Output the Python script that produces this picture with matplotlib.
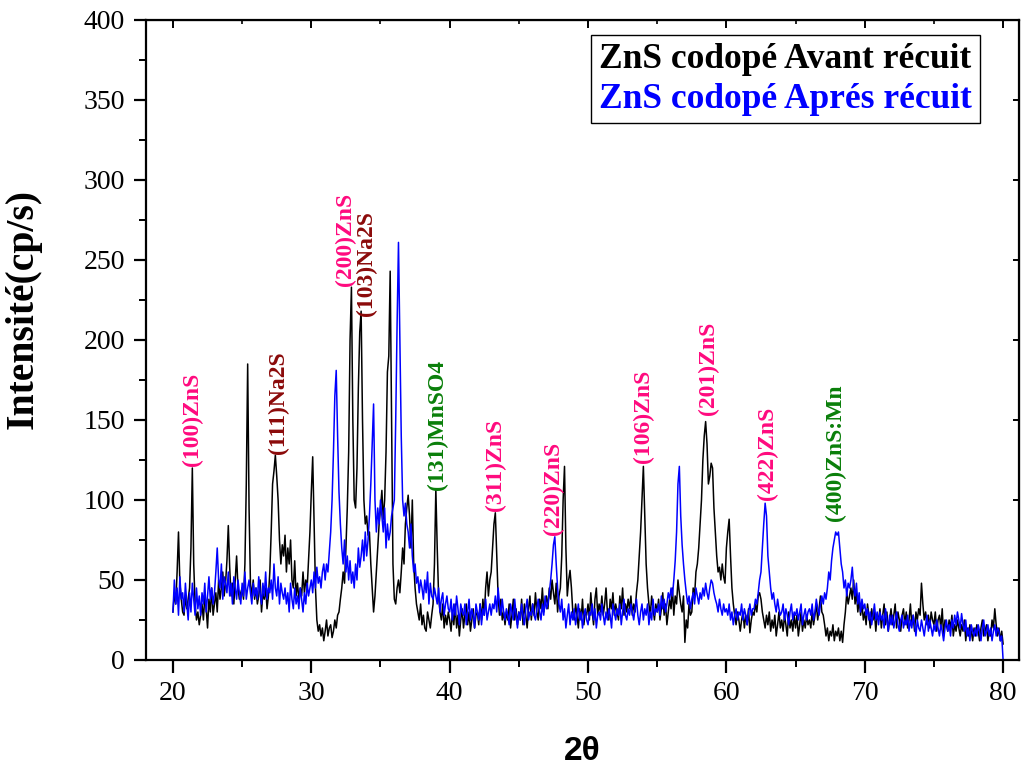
import numpy as np
import matplotlib
matplotlib.use("Agg")
import matplotlib.pyplot as plt
from matplotlib.ticker import MultipleLocator

plt.rcParams['font.family'] = ['Liberation Serif', 'DejaVu Serif']

# 2theta scan, 0.1 deg step from 20 to 80
two_theta = np.round(np.linspace(20, 80, 601), 1)

# ZnS codope before annealing (cp/s), one row per degree
avant = [
    30, 42, 35, 55, 80, 48, 38, 30, 28, 40,
    32, 38, 45, 70, 120, 60, 35, 25, 30, 22,
    28, 35, 25, 40, 32, 20, 38, 30, 45, 28,
    35, 42, 30, 50, 38, 45, 55, 40, 48, 62,
    84, 58, 40, 48, 35, 50, 65, 45, 38, 42,
    45, 38, 60, 110, 185, 95, 48, 40, 50, 38,
    45, 35, 40, 50, 30, 42, 38, 45, 32, 40,
    55, 80, 110, 118, 128, 115, 100, 75, 60, 72,
    65, 78, 55, 70, 60, 75, 50, 45, 62, 40,
    48, 38, 45, 40, 55, 42, 50, 45, 62, 80,
    105, 127, 85, 45, 25, 18, 22, 15, 20, 12,
    18, 25, 15, 20, 22, 14, 18, 25, 20, 28,
    30, 38, 45, 55, 48, 70, 95, 130, 200, 233,
    150, 100, 95, 120, 170, 205, 218, 150, 100, 85,
    90, 78, 80, 60, 45, 30, 40, 55, 70, 85,
    95, 106, 88, 100, 130, 180, 190, 243, 150, 60,
    38, 35, 45, 50, 42, 55, 70, 60, 85, 95,
    103, 90, 70, 100, 60, 45, 35, 30, 25, 35,
    22, 28, 20, 18, 30, 25, 20, 28, 35, 60,
    107, 70, 40, 30, 25, 35, 20, 28, 22, 30,
    25, 18, 30, 22, 35, 20, 28, 15, 25, 32,
    20, 28, 35, 22, 30, 18, 25, 32, 20, 28,
    30, 22, 35, 25, 38, 28, 45, 55, 40, 50,
    55, 70, 85, 92, 65, 40, 28, 38, 25, 30,
    22, 30, 25, 35, 20, 28, 38, 25, 32, 22,
    30, 25, 38, 22, 35, 28, 20, 32, 40, 25,
    35, 28, 42, 30, 25, 38, 32, 45, 30, 35,
    40, 32, 45, 38, 50, 42, 35, 48, 30, 40,
    45, 65, 100, 121, 70, 40, 50, 56, 45, 30,
    25, 35, 28, 20, 32, 25, 38, 22, 30, 28,
    35, 25, 42, 30, 22, 38, 45, 28, 35, 30,
    40, 28, 35, 45, 30, 25, 38, 32, 42, 28,
    35, 30, 25, 40, 32, 45, 28, 35, 30, 38,
    32, 40, 28, 35, 30, 42, 50, 65, 80, 100,
    121, 90, 60, 45, 35, 28, 40, 32, 25, 35,
    30, 38, 25, 32, 42, 28, 35, 22, 30, 38,
    32, 45, 28, 40, 35, 50, 42, 35, 30, 40,
    11, 25, 20, 35, 28, 30, 45, 40, 55, 60,
    70, 85, 100, 125, 140, 149, 135, 110, 115, 123,
    120, 95, 80, 65, 55, 58, 50, 60, 52, 48,
    70, 80, 88, 65, 45, 35, 28, 22, 30, 25,
    18, 25, 30, 20, 28, 22, 32, 17, 25, 30,
    28, 35, 30, 40, 42, 38, 30, 25, 20, 28,
    22, 30, 18, 25, 20, 28, 15, 22, 30, 20,
    25, 18, 28, 22, 15, 30, 20, 25, 18, 28,
    20, 28, 15, 22, 30, 18, 25, 20, 28, 22,
    25, 20, 30, 22, 28, 35, 25, 32, 40, 30,
    28, 22, 15, 20, 12, 18, 15, 22, 12, 18,
    15, 20, 12, 18, 11, 22, 30, 42, 35, 40,
    45, 38, 50, 35, 42, 30, 38, 28, 35, 25,
    30, 22, 35, 28, 20, 32, 25, 30, 18, 28,
    25, 32, 20, 28, 35, 22, 30, 18, 25, 32,
    22, 28, 35, 20, 30, 25, 18, 28, 32, 22,
    30, 20, 25, 35, 22, 28, 18, 30, 25, 32,
    28, 48, 35, 25, 30, 22, 28, 20, 30, 25,
    22, 30, 18, 25, 28, 20, 32, 15, 25, 22,
    18, 25, 20, 28, 15, 22, 18, 25, 20, 15,
    22, 18, 25, 12, 20, 15, 22, 18, 12, 20,
    15, 22, 18, 12, 20, 25, 15, 18, 22, 12,
    18, 15, 25, 20, 32, 22, 15, 20, 12, 18,
    10,
]

# ZnS codope after annealing (cp/s)
apres = [
    30, 50, 35, 45, 28, 52, 38, 42, 30, 48,
    35, 25, 42, 30, 48, 38, 28, 45, 32, 40,
    28, 42, 35, 48, 30, 40, 52, 38, 45, 35,
    42, 55, 70, 50, 45, 60, 38, 52, 48, 42,
    55, 40, 48, 35, 52, 45, 38, 50, 42, 35,
    48, 40, 55, 38, 45, 50, 42, 35, 48, 40,
    45, 38, 52, 42, 35, 48, 40, 55, 38, 45,
    42, 50, 38, 60, 45, 40, 52, 35, 48, 42,
    38, 45, 35, 42, 30, 48, 38, 32, 45, 35,
    40, 32, 45, 38, 30, 42, 35, 48, 40, 45,
    50, 42, 55, 45, 58, 48, 52, 45, 55, 60,
    50, 60, 55, 68, 80, 100, 130, 165, 181, 140,
    105, 85, 70, 60, 75, 55, 65, 50, 62, 48,
    55, 45, 60, 50, 70, 58, 65, 75, 62, 80,
    65, 75, 90, 110, 135, 160, 100, 80, 95, 85,
    100, 90, 80, 95, 70, 85, 75, 80, 90, 95,
    100, 150, 210, 261, 200, 140, 100, 90, 98, 85,
    80, 70, 85, 65, 55, 60, 48, 52, 42, 50,
    45, 38, 50, 42, 55, 35, 48, 40, 38, 45,
    40, 35, 45, 30, 38, 42, 28, 35, 40, 32,
    30, 38, 25, 35, 28, 40, 32, 22, 35, 30,
    28, 35, 22, 30, 38, 25, 32, 28, 20, 35,
    30, 25, 35, 22, 32, 28, 38, 25, 30, 35,
    28, 35, 32, 40, 30, 45, 35, 28, 38, 30,
    25, 32, 28, 22, 35, 30, 25, 38, 28, 20,
    30, 25, 35, 28, 22, 32, 38, 25, 30, 28,
    35, 28, 25, 32, 38, 30, 25, 35, 28, 40,
    32, 35, 42, 50, 60, 72, 77, 60, 45, 35,
    30, 38, 25, 32, 20, 28, 35, 22, 30, 25,
    32, 22, 28, 35, 25, 30, 20, 28, 32, 25,
    22, 30, 28, 35, 25, 32, 20, 28, 30, 25,
    35, 28, 22, 30, 25, 32, 28, 20, 35, 30,
    25, 32, 28, 35, 22, 30, 38, 28, 25, 32,
    28, 35, 30, 25, 32, 38, 28, 22, 30, 35,
    25, 32, 28, 35, 22, 30, 25, 38, 28, 32,
    30, 35, 28, 40, 32, 38, 30, 35, 42, 38,
    45, 40, 50, 62, 80, 110, 121, 90, 72, 60,
    50, 42, 35, 40, 32, 38, 42, 35, 45, 40,
    35, 42, 38, 45, 40, 48, 42, 38, 45, 50,
    48, 42, 38, 35, 30, 38, 32, 28, 35, 30,
    32, 28, 35, 25, 30, 22, 28, 32, 25, 30,
    28, 35, 25, 32, 28, 22, 30, 35, 28, 32,
    32, 38, 35, 42, 50, 55, 70, 85, 98, 90,
    65, 55, 45, 38, 42, 35, 30, 38, 32, 28,
    30, 35, 25, 32, 28, 22, 30, 35, 25, 30,
    28, 32, 25, 30, 35, 22, 28, 32, 25, 30,
    32, 28, 35, 25, 30, 38, 32, 28, 35, 40,
    35, 42, 38, 45, 55, 50, 62, 70, 75, 80,
    78, 80, 70, 60, 55, 45, 50, 40, 48, 45,
    50, 58, 45, 40, 48, 35, 42, 30, 38, 32,
    35, 28, 32, 25, 30, 22, 28, 35, 25, 30,
    22, 30, 25, 28, 20, 32, 25, 18, 28, 22,
    28, 20, 25, 30, 22, 18, 25, 28, 20, 25,
    22, 28, 18, 25, 20, 28, 22, 15, 25, 20,
    18, 25, 20, 15, 22, 28, 18, 25, 20, 15,
    22, 18, 25, 20, 15, 22, 18, 12, 20, 25,
    18, 22, 15, 25, 20, 28, 22, 30, 25, 20,
    29, 22, 18, 25, 15, 20, 12, 22, 18, 15,
    20, 15, 22, 18, 12, 20, 25, 15, 18, 22,
    15, 20, 12, 18, 22, 15, 20, 18, 12, 15,
    0,
]

# peak assignments: label, 2theta, intensity at label foot, colour
peak_labels = ['(100)ZnS', '(111)Na2S', '(200)ZnS', '(103)Na2S', '(131)MnSO4',
               '(311)ZnS', '(220)ZnS', '(106)ZnS', '(201)ZnS', '(422)ZnS', '(400)ZnS:Mn']
peak_pos = [21.4, 27.6, 32.45, 33.95, 39.1, 43.3, 47.5, 54.0, 58.7, 63.0, 67.9]
peak_foot = [120, 128, 233, 214, 105, 92, 77, 122, 152, 99, 86]
pink, wine, olive = '#FF0A7E', '#8B0A0A', '#0A7F0A'
peak_colors = [pink, wine, pink, wine, olive, pink, pink, pink, pink, pink, olive]

fig = plt.figure(figsize=(10.23, 7.66), dpi=100)
ax = fig.add_axes([0.1427, 0.1384, 0.8534, 0.8355])

l1, = ax.plot(two_theta, avant, color='black', lw=1.1, label='ZnS codopé Avant récuit')
l2, = ax.plot(two_theta, apres, color='#0000FF', lw=1.1, label='ZnS codopé Aprés récuit')

for lab, xp, yp, c in zip(peak_labels, peak_pos, peak_foot, peak_colors):
    ax.text(xp, yp + 1, lab, rotation=90, ha='center', va='bottom',
            color=c, fontsize=17, fontweight='bold')

ax.set_xlim(18.05, 81.15)
ax.set_ylim(0, 400)
ax.xaxis.set_major_locator(MultipleLocator(10))
ax.xaxis.set_minor_locator(MultipleLocator(5))
ax.yaxis.set_major_locator(MultipleLocator(50))
ax.yaxis.set_minor_locator(MultipleLocator(25))

for s in ax.spines.values():
    s.set_linewidth(1.6)
ax.tick_params(which='major', direction='out', length=9, width=1.6, labelsize=20, pad=6)
ax.tick_params(which='minor', direction='out', length=5, width=1.4)

# inward ticks on top and right, no labels
top = ax.secondary_xaxis('top')
top.xaxis.set_major_locator(MultipleLocator(10))
top.xaxis.set_minor_locator(MultipleLocator(5))
top.tick_params(which='major', direction='in', length=6, width=1.4, labeltop=False)
top.tick_params(which='minor', direction='in', length=3, width=1.2)
right = ax.secondary_yaxis('right')
right.yaxis.set_major_locator(MultipleLocator(50))
right.yaxis.set_minor_locator(MultipleLocator(25))
right.tick_params(which='major', direction='in', length=4, width=1.4, labelright=False)
right.tick_params(which='minor', direction='in', length=0)

ax.set_xlabel('2θ', fontsize=24, fontweight='bold', family='Liberation Sans', labelpad=22)
ax.set_ylabel('Intensité(cp/s)', fontsize=28.5, fontweight='bold')
ax.yaxis.set_label_coords(-0.119, 0.548)

leg = ax.legend(handles=[l1, l2], loc='upper right', bbox_to_anchor=(0.955, 0.977),
                borderaxespad=0, handlelength=0, handletextpad=0, labelcolor='linecolor',
                prop={'family': 'Liberation Serif', 'weight': 'bold', 'size': 25.5},
                fancybox=False, framealpha=1, edgecolor='black',
                borderpad=0.22, labelspacing=0.2)
leg.get_frame().set_linewidth(1.0)

fig.savefig('out.png', dpi=100)
